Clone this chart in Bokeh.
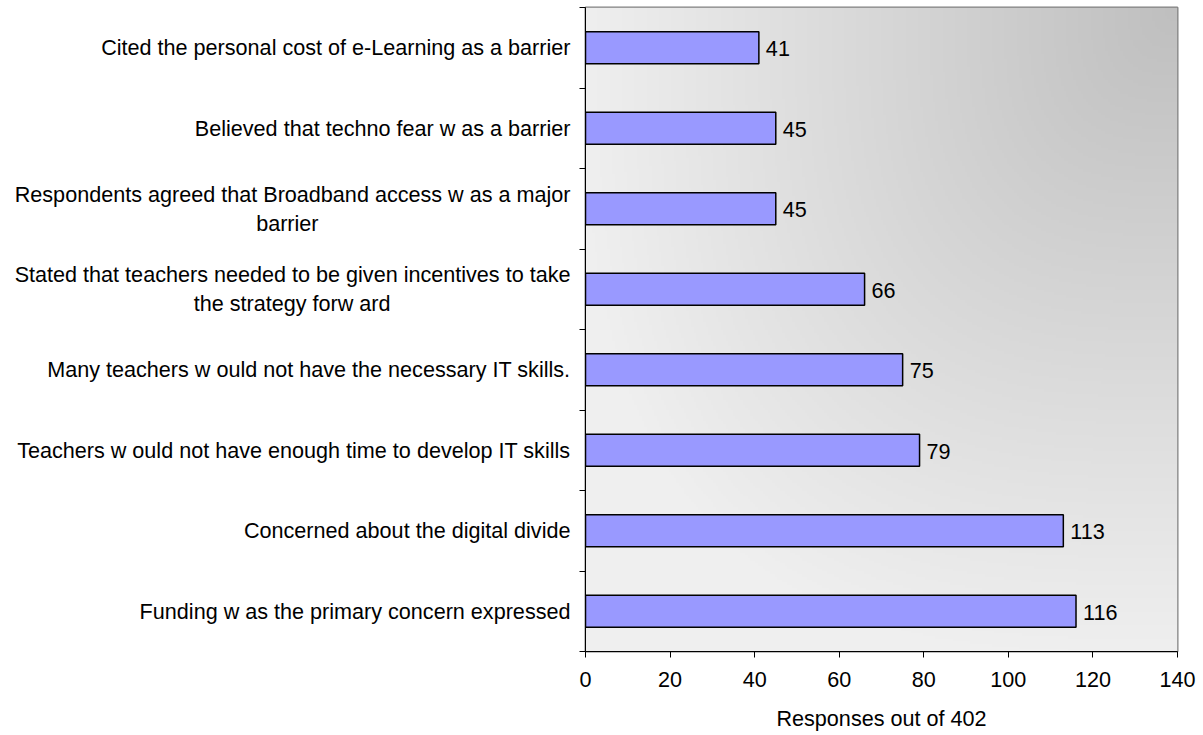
import numpy as np
from bokeh.plotting import figure
from bokeh.models import Range1d, FixedTicker, ColumnDataSource
from bokeh.core.properties import value
from bokeh.embed import file_html
from bokeh.resources import INLINE

# Data (bottom to top)
categories = [
    "Funding w as the primary concern expressed",
    "Concerned about the digital divide",
    "Teachers w ould not have enough time to develop IT skills",
    "Many teachers w ould not have the necessary IT skills.",
    "Stated that teachers needed to be given incentives to take\nthe strategy forw ard",
    "Respondents agreed that Broadband access w as a major\nbarrier",
    "Believed that techno fear w as a barrier",
    "Cited the personal cost of e-Learning as a barrier",
]
responses = [116, 113, 79, 75, 66, 45, 45, 41]
x_ticks = [0, 20, 40, 60, 80, 100, 120, 140]
x_title = "Responses out of 402"

FONT = "Liberation Sans"
FS = "21.6px"
n = len(categories)
idx = list(range(n))

# trailing no-break spaces so that the second line sits centred under the first
second_line_pad = {4: 30, 5: 42}


def axis_text(i, c):
    if "\n" in c:
        first, second = c.split("\n", 1)
        return first + "\n" + second + "\u00a0" * second_line_pad.get(i, 0)
    return c


p = figure(width=1203, height=735, output_backend="svg", toolbar_location=None,
           x_range=Range1d(0, 140), y_range=Range1d(-0.5, n - 0.5),
           min_border_left=585, min_border_right=26, min_border_top=7,
           min_border_bottom=84)

# background gradient (style only)
N = 240
u = (np.arange(N) + 0.5) / N
v = (np.arange(N) + 0.5) / N
U, V = np.meshgrid(u, v)
dxn = 1.0 - U
dyn = 1.0 - V
d = (dxn ** 3 + dyn ** 3) ** (1 / 3)
f = np.clip(1.0 - d, 0, 1)
g = (239 - 48 * f).astype(np.uint32)
img = (255 << 24) | (g << 16) | (g << 8) | g
p.image_rgba(image=[img.astype(np.uint32)], x=0, y=-0.5, dw=140, dh=n)

src = ColumnDataSource(dict(y=idx, v=responses, t=[str(r) for r in responses]))
p.hbar(y="y", left=0, right="v", height=0.4, source=src,
       fill_color="#9999ff", line_color="black", line_width=1.5)
p.text(x="v", y="y", text="t", source=src, x_offset=7, y_offset=1,
       text_baseline="middle", text_align="left",
       text_font=value(FONT), text_font_size=FS, text_color="black")

p.xgrid.visible = False
p.ygrid.visible = False
p.background_fill_color = "#efefef"
p.border_fill_color = "white"
p.outline_line_color = "#808080"
p.outline_line_width = 2

xa = p.xaxis[0]
xa.ticker = FixedTicker(ticks=x_ticks)
xa.axis_label = x_title
xa.axis_label_text_font = FONT
xa.axis_label_text_font_size = FS
xa.axis_label_text_font_style = "normal"
xa.axis_label_text_color = "black"
xa.axis_label_standoff = 16
xa.major_label_text_font = FONT
xa.major_label_text_font_size = FS
xa.major_label_text_color = "black"
xa.major_label_standoff = 14
xa.major_tick_out = 6
xa.major_tick_in = 0
xa.minor_tick_out = 0
xa.axis_line_color = "black"
xa.major_tick_line_color = "black"

ya = p.yaxis[0]
ya.ticker = FixedTicker(ticks=idx, minor_ticks=[i - 0.5 for i in range(n + 1)])
ya.major_label_overrides = {i: axis_text(i, c) for i, c in enumerate(categories)}
ya.major_label_text_font = FONT
ya.major_label_text_font_size = FS
ya.major_label_text_color = "black"
ya.major_label_text_align = "right"
ya.major_label_text_line_height = 1.16
ya.major_label_standoff = 9
ya.major_tick_out = 0
ya.major_tick_in = 0
ya.minor_tick_out = 6
ya.minor_tick_in = 0
ya.minor_tick_line_color = "black"
ya.axis_line_color = "black"

open("out.html", "w").write(file_html(p, INLINE))
